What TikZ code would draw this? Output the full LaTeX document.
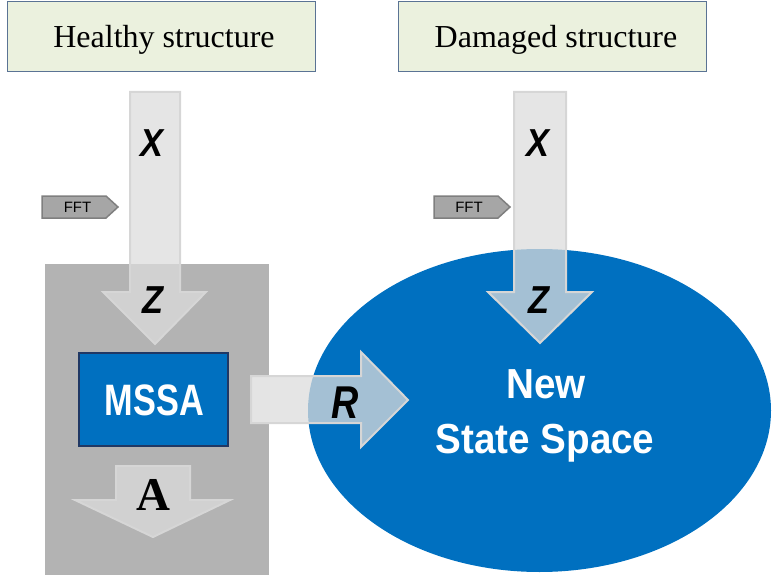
\documentclass[tikz,border=0pt]{standalone}
\usepackage{fontspec}
\setmainfont{Liberation Serif}
\setsansfont{Liberation Sans}
\usepackage{graphicx}
\usetikzlibrary{shapes.geometric}
\definecolor{msblue}{HTML}{0070C0}
\definecolor{navy}{HTML}{203864}
\definecolor{titlefill}{HTML}{EBF1DE}
\definecolor{titleline}{HTML}{5A7394}
\definecolor{arrfill}{RGB}{220,220,220}
\definecolor{arrline}{HTML}{D6D6D6}
\definecolor{boxgray}{HTML}{B3B3B3}
\definecolor{fftfill}{HTML}{A6A6A6}
\definecolor{fftline}{HTML}{7F7F7F}
\tikzset{
  titlebox/.style={draw=titleline, line width=1pt, fill=titlefill},
  titletext/.style={font=\fontsize{32}{38}\selectfont, anchor=base, inner sep=0pt},
  blockarrow/.style={fill=arrfill, fill opacity=0.75, draw=arrline, line width=2pt, line join=miter},
  fftshape/.style={fill=fftfill, draw=fftline, line width=1.5pt, line join=miter},
  ffttext/.style={font=\sffamily\fontsize{15}{18}\selectfont, anchor=base, inner sep=0pt},
  varlabel/.style={font=\sffamily\bfseries\itshape\fontsize{39}{46}\selectfont, anchor=base, inner sep=0pt},
  whitelabel/.style={font=\sffamily\bfseries, text=white, anchor=base, inner sep=0pt},
}
\begin{document}
\begin{tikzpicture}[x=1pt,y=-1pt]
\useasboundingbox (0,0) rectangle (772,578);
% title boxes
\node[titlebox, minimum width=308pt, minimum height=70pt, inner sep=0pt] (hbox) at (161,37) {};
\node[titlebox, minimum width=308pt, minimum height=70pt, inner sep=0pt] (dbox) at (552,37) {};
\node[titletext] (htext) at (164,48) {Healthy structure};
\node[titletext] (dtext) at (556,48) {Damaged structure};
% gray box
\node[fill=boxgray, minimum width=224pt, minimum height=311pt, inner sep=0pt] (gbox) at (157,419.5) {};
% ellipse
\node[ellipse, fill=msblue, minimum width=463pt, minimum height=323pt, inner sep=0pt] (nss) at (539.5,410.5) {};
% MSSA box
\node[fill=msblue, draw=navy, line width=2pt, minimum width=149pt, minimum height=93pt, inner sep=0pt] (mssa) at (153.5,399.5) {};
\node[whitelabel, font=\sffamily\bfseries\fontsize{44}{50}\selectfont] (mssatext) at (154.5,415) {\scalebox{0.78}[1]{MSSA}};
% FFT tags
\draw[fftshape] (42,196) -- (106,196) -- (118,207) -- (106,218) -- (42,218) -- cycle;
\node[ffttext] (fft1) at (77.5,212) {FFT};
\draw[fftshape] (434,196) -- (498,196) -- (510,207) -- (498,218) -- (434,218) -- cycle;
\node[ffttext] (fft2) at (469,212) {FFT};
% block arrows
\draw[blockarrow] (130,92) -- (180,92) -- (180,292) -- (206,292) -- (155,344) -- (103,292) -- (130,292) -- cycle;
\draw[blockarrow] (514,92) -- (566,92) -- (566,292) -- (592,292) -- (540,343) -- (488,292) -- (514,292) -- cycle;
\draw[blockarrow] (116,466) -- (190,466) -- (190,500) -- (230,500) -- (153,537) -- (75,500) -- (116,500) -- cycle;
\begin{scope}
  \clip (45,264) rectangle (269,575);
  \fill[white] (251,376) rectangle (361,423);
\end{scope}
\draw[blockarrow] (251,376) -- (361,376) -- (361,352) -- (408,400) -- (361,447) -- (361,423) -- (251,423) -- cycle;
% labels
\node[varlabel] (x1) at (152,157) {\scalebox{0.88}[1]{X}};
\node[varlabel] (z1) at (153,313) {\scalebox{0.88}[1]{Z}};
\node[varlabel] (x2) at (538,157) {\scalebox{0.88}[1]{X}};
\node[varlabel] (z2) at (539,313) {\scalebox{0.88}[1]{Z}};
\node[varlabel, font=\sffamily\bfseries\itshape\fontsize{46}{52}\selectfont] (r) at (345,418) {\scalebox{0.82}[1]{R}};
\node[anchor=base, inner sep=0pt, font=\bfseries\fontsize{47}{54}\selectfont] (a) at (153,510) {A};
\node[whitelabel, font=\sffamily\bfseries\fontsize{42}{48}\selectfont] (new) at (546,398) {\scalebox{0.92}[1]{New}};
\node[whitelabel, font=\sffamily\bfseries\fontsize{42}{48}\selectfont] (ss) at (545,453) {\scalebox{0.92}[1]{State Space}};
\end{tikzpicture}
\end{document}
